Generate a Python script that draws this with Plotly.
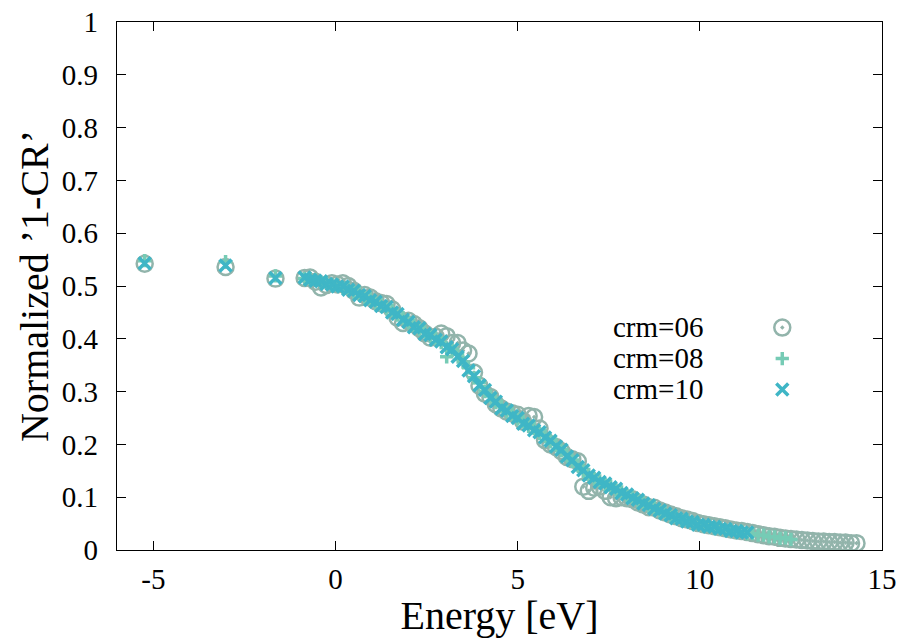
import plotly.graph_objects as go

# ---------------- data ----------------
energy_low = [-5.24, -3.02, -1.65]
energy = [-0.85, -0.70, -0.55, -0.40, -0.25, -0.10, 0.05, 0.20, 0.35, 0.50,
          0.65, 0.80, 0.95, 1.10, 1.25, 1.40, 1.55, 1.70, 1.85, 2.00,
          2.15, 2.30, 2.45, 2.60, 2.75, 2.90, 3.05, 3.20, 3.35, 3.50,
          3.65, 3.80, 3.95, 4.10, 4.25, 4.40, 4.55, 4.70, 4.85, 5.00,
          5.15, 5.30, 5.45, 5.60, 5.75, 5.90, 6.05, 6.20, 6.35, 6.50,
          6.65, 6.80, 6.95, 7.10, 7.25, 7.40, 7.55, 7.70, 7.85, 8.00,
          8.15, 8.30, 8.45, 8.60, 8.75, 8.90, 9.05, 9.20, 9.35, 9.50,
          9.65, 9.80, 9.95, 10.10, 10.25, 10.40, 10.55, 10.70, 10.85, 11.00,
          11.15, 11.30, 11.45, 11.60, 11.75, 11.90, 12.05, 12.20, 12.35, 12.50,
          12.65, 12.80, 12.95, 13.10, 13.25, 13.40, 13.55, 13.70, 13.85, 14.00,
          14.15, 14.30]

crm06_low = [0.542, 0.536, 0.514]
crm06 = [0.515, 0.516, 0.508, 0.497, 0.502, 0.505, 0.503, 0.505, 0.500, 0.491,
         0.478, 0.483, 0.478, 0.471, 0.468, 0.466, 0.456, 0.440, 0.430, 0.434,
         0.428, 0.420, 0.410, 0.402, 0.404, 0.410, 0.405, 0.392, 0.392, 0.378,
         0.372, 0.336, 0.311, 0.296, 0.290, 0.276, 0.268, 0.262, 0.259, 0.256,
         0.243, 0.254, 0.252, 0.230, 0.208, 0.200, 0.195, 0.187, 0.176, 0.172,
         0.168, 0.120, 0.112, 0.118, 0.120, 0.112, 0.100, 0.098, 0.100, 0.098,
         0.096, 0.090, 0.086, 0.081, 0.080, 0.075, 0.071, 0.067, 0.064, 0.060,
         0.058, 0.055, 0.051, 0.049, 0.047, 0.045, 0.043, 0.041, 0.039, 0.037,
         0.036, 0.034, 0.032, 0.030, 0.028, 0.026, 0.025, 0.023, 0.022, 0.021,
         0.020, 0.019, 0.018, 0.017, 0.016, 0.016, 0.015, 0.015, 0.014, 0.014,
         0.013, 0.013]

crm08_low = [0.548, 0.546, 0.519]
crm08 = [0.514, 0.514, 0.512, 0.507, 0.506, 0.502, 0.502, 0.497, 0.495, 0.489,
         0.486, 0.479, 0.476, 0.468, 0.465, 0.458, 0.454, 0.445, 0.440, 0.430,
         0.426, 0.418, 0.413, 0.405, 0.401, 0.393, 0.366, 0.378, 0.371, 0.356,
         0.345, 0.326, 0.317, 0.300, 0.292, 0.279, 0.273, 0.262, 0.258, 0.248,
         0.243, 0.234, 0.231, 0.221, 0.217, 0.205, 0.200, 0.188, 0.181, 0.168,
         0.161, 0.149, 0.143, 0.135, 0.131, 0.124, 0.121, 0.114, 0.110, 0.103,
         0.100, 0.093, 0.090, 0.083, 0.080, 0.073, 0.071, 0.064, 0.062, 0.057,
         0.056, 0.051, 0.050, 0.046, 0.046, 0.042, 0.042, 0.038, 0.038, 0.034,
         0.035, 0.031, 0.031, 0.028, 0.028, 0.025, 0.025, 0.022, 0.023, 0.020]

crm10_low = [0.543, 0.539, 0.515]
crm10 = [0.516, 0.512, 0.510, 0.509, 0.504, 0.503, 0.499, 0.499, 0.493, 0.491,
         0.483, 0.481, 0.473, 0.470, 0.462, 0.460, 0.450, 0.447, 0.436, 0.432,
         0.422, 0.420, 0.409, 0.407, 0.398, 0.395, 0.384, 0.380, 0.366, 0.358,
         0.340, 0.329, 0.312, 0.303, 0.288, 0.281, 0.268, 0.264, 0.254, 0.250,
         0.239, 0.236, 0.227, 0.223, 0.213, 0.207, 0.196, 0.190, 0.177, 0.170,
         0.157, 0.151, 0.141, 0.137, 0.129, 0.126, 0.119, 0.116, 0.108, 0.105,
         0.098, 0.095, 0.088, 0.085, 0.078, 0.075, 0.069, 0.066, 0.060, 0.059,
         0.054, 0.053, 0.048, 0.048, 0.044, 0.044, 0.040, 0.040, 0.036, 0.036,
         0.033, 0.033]

legend_labels = ["crm=06", "crm=08", "crm=10"]
x_ticks = [-5, 0, 5, 10, 15]
y_ticks = [0, 0.1, 0.2, 0.3, 0.4, 0.5, 0.6, 0.7, 0.8, 0.9, 1]

# ---------------- styling ----------------
FONT = "Liberation Serif"
C06 = "#92b4ab"
C08 = "#76cbb5"
C10 = "#3fb6c6"

series = [
    (crm06_low, crm06, dict(symbol="circle-open-dot", size=16, color=C06,
                            line=dict(width=2.5, color=C06))),
    (crm08_low, crm08, dict(symbol="cross-thin-open", size=9.5, color=C08,
                            line=dict(width=3.5, color=C08))),
    (crm10_low, crm10, dict(symbol="x-thin-open", size=12, color=C10,
                            line=dict(width=3.5, color=C10))),
]

fig = go.Figure()
for (ylow, ys, mk) in series:
    xs = energy_low + energy[:len(ys)]
    fig.add_trace(go.Scatter(x=xs, y=ylow + ys, mode="markers", marker=mk,
                             name="", showlegend=True, hoverinfo="x+y"))

# legend texts (placed left of the legend symbols, as in gnuplot)
row_y = [0.4223, 0.3636, 0.3049]
for lab, yy in zip(legend_labels, row_y):
    fig.add_annotation(text=lab, xref="paper", yref="paper", x=0.769, y=yy,
                       xanchor="right", yanchor="middle", showarrow=False,
                       font=dict(family=FONT, size=29, color="black"))

axis_common = dict(showline=True, linecolor="black", linewidth=1.3,
                   mirror="ticks", ticks="inside", ticklen=9, tickwidth=1.3,
                   tickcolor="black", showgrid=False, zeroline=False,
                   automargin=False,
                   tickfont=dict(family=FONT, size=29, color="black"))

fig.update_xaxes(range=[-6, 15], tickvals=x_ticks,
                 ticktext=[str(v) for v in x_ticks],
                 title=dict(text="Energy [eV]", standoff=0,
                            font=dict(family=FONT, size=40, color="black")),
                 ticklabelstandoff=3, **axis_common)
fig.update_yaxes(range=[0, 1], tickvals=y_ticks,
                 ticktext=[("%g" % v) for v in y_ticks],
                 title=dict(text="Normalized \u20191-CR\u2019", standoff=0,
                            font=dict(family=FONT, size=40, color="black")),
                 ticklabelstandoff=12, **axis_common)

fig.update_layout(
    width=897, height=638,
    margin=dict(l=117, r=15, t=22, b=88, autoexpand=False),
    paper_bgcolor="white", plot_bgcolor="white",
    showlegend=True,
    legend=dict(x=0.8435, y=0.46, xanchor="left", yanchor="top",
                bgcolor="rgba(0,0,0,0)", borderwidth=0,
                font=dict(family=FONT, size=21.5), tracegroupgap=0,
                itemsizing="trace"),
)

fig.write_html("out.html",
               config={"displayModeBar": False},
               post_script="document.body.style.margin='0';"
                           "document.body.style.overflow='hidden';")
